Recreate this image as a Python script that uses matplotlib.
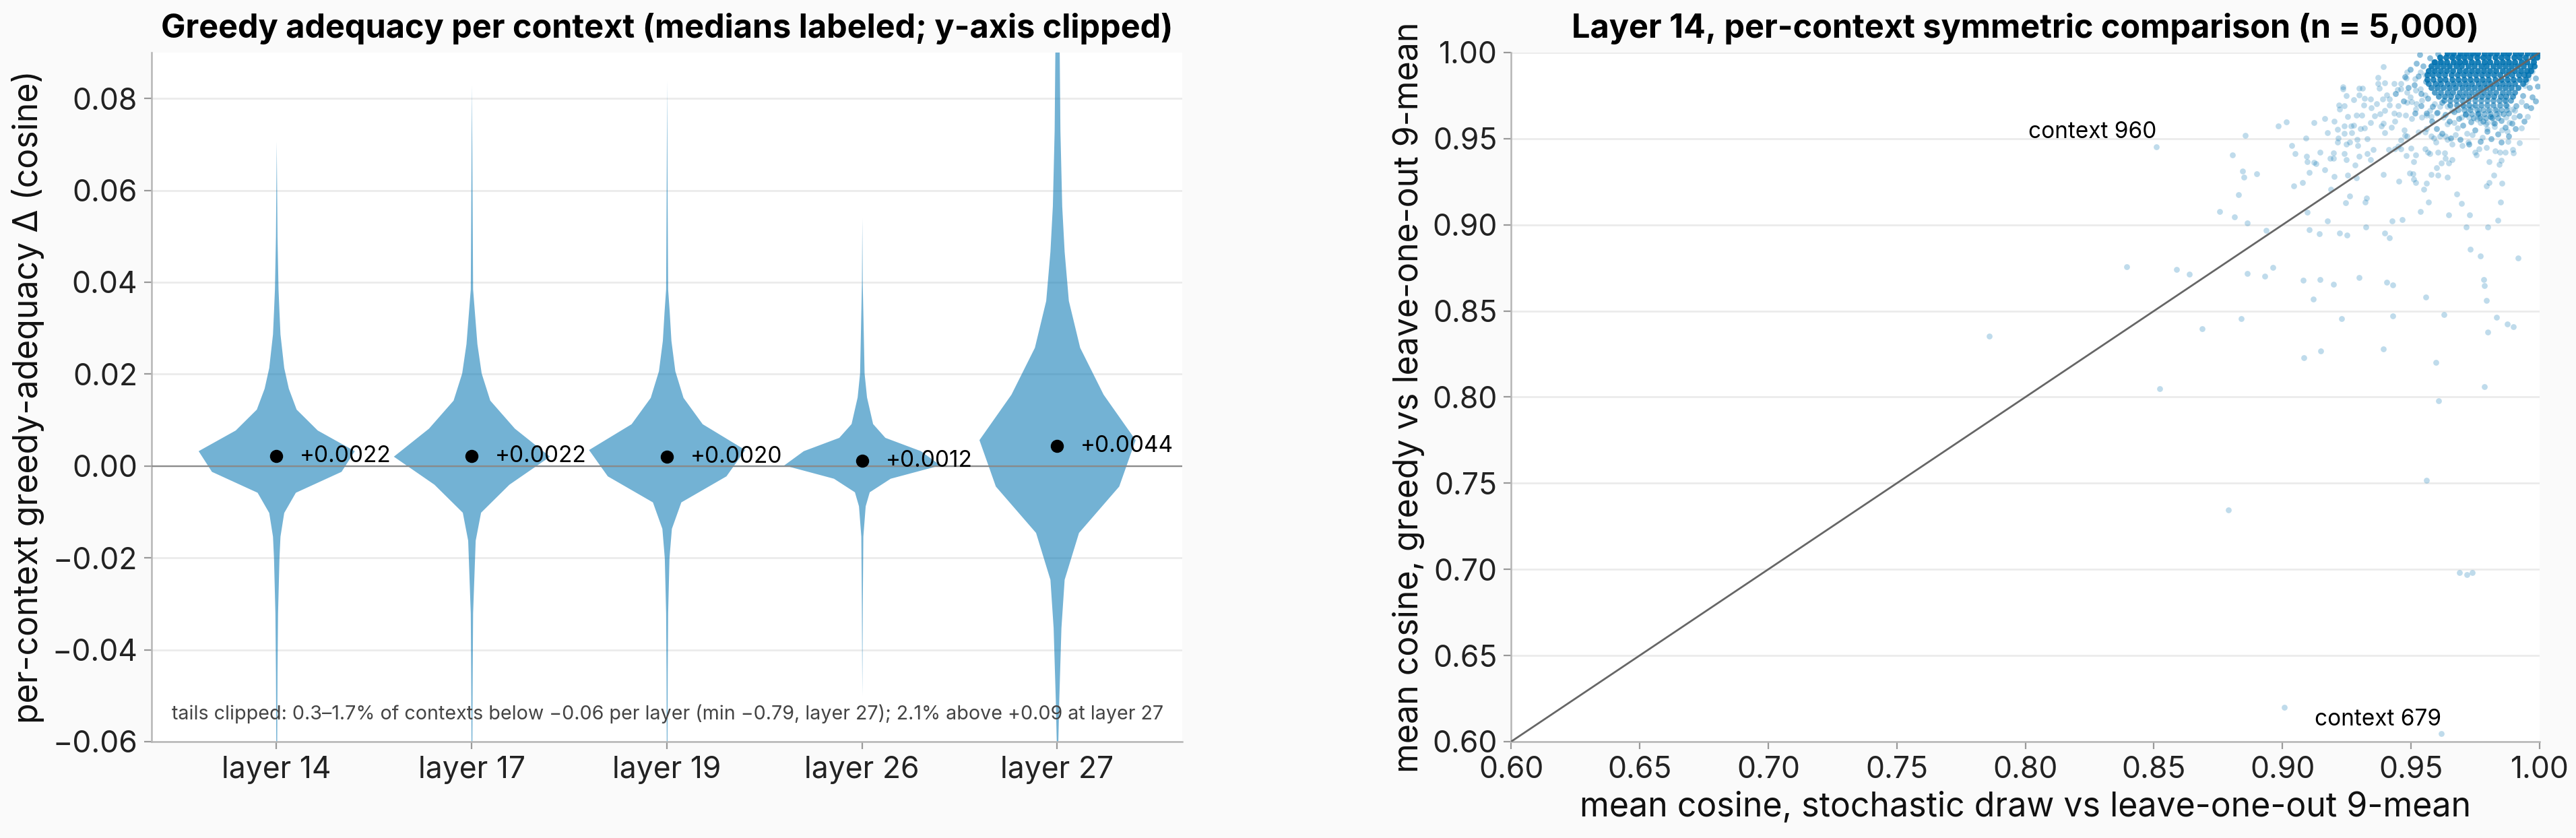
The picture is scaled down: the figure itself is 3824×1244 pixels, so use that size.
import numpy as np
import matplotlib
matplotlib.use("Agg")
import matplotlib.pyplot as plt
from matplotlib.ticker import FuncFormatter

plt.rcParams['font.family'] = ['Inter', 'DejaVu Sans']

BLUE = '#0173b2'
BG = '#fafafa'

# ---- left panel: per-layer violin profiles (y value, relative half-width) ----
layers = ['layer 14', 'layer 17', 'layer 19', 'layer 26', 'layer 27']
medians = [0.0022, 0.0022, 0.0020, 0.0012, 0.0044]

prof_y = [
    [0.0707, 0.050, 0.0385, 0.0336, 0.0287, 0.0214, 0.0169, 0.01235, 0.0078, 0.0033,
     -0.0012, -0.00575, -0.01015, -0.0153, -0.020, -0.032, -0.045, -0.060],
    [0.083, 0.060, 0.0385, 0.032, 0.0266, 0.0202, 0.0143, 0.0082, 0.0021, -0.0040,
     -0.0101, -0.0162, -0.032, -0.045, -0.060],
    [0.084, 0.060, 0.0385, 0.0336, 0.0273, 0.0207, 0.0149, 0.00917, 0.00355, -0.00218,
     -0.00785, -0.0136, -0.020, -0.032, -0.045, -0.060],
    [0.054, 0.040, 0.0202, 0.015, 0.0092, 0.0062, 0.0033, 0.0002, -0.0027, -0.00565,
     -0.0087, -0.0153, -0.030, -0.050],
    [0.095, 0.090, 0.073, 0.0566, 0.0467, 0.036, 0.0258, 0.0156, 0.0057, -0.0044,
     -0.0145, -0.0247, -0.0352, -0.051, -0.060],
]
prof_w = [
    [0.0, 0.01, 0.023, 0.035, 0.048, 0.096, 0.155, 0.255, 0.525, 1.0,
     0.83, 0.245, 0.096, 0.048, 0.035, 0.017, 0.01, 0.006],
    [0.0, 0.008, 0.015, 0.045, 0.07, 0.125, 0.235, 0.55, 1.0, 0.48,
     0.117, 0.048, 0.015, 0.01, 0.006],
    [0.0, 0.006, 0.013, 0.033, 0.055, 0.105, 0.21, 0.455, 1.0, 0.76,
     0.182, 0.061, 0.03, 0.013, 0.008, 0.005],
    [0.0, 0.005, 0.029, 0.06, 0.138, 0.295, 0.75, 1.0, 0.363, 0.095,
     0.043, 0.013, 0.006, 0.0],
    [0.025, 0.028, 0.037, 0.06, 0.091, 0.145, 0.29, 0.59, 1.0, 0.79,
     0.275, 0.091, 0.05, 0.022, 0.01],
]

footnote = ("tails clipped: 0.3\u20131.7% of contexts below \u22120.06 per layer "
            "(min \u22120.79, layer 27); 2.1% above +0.09 at layer 27")

# ---- right panel: layer 14 per-context means ----
sparse_x = [
    0.7859, 0.8510, 0.8394, 0.8587, 0.8638, 0.8522, 0.8687, 0.8838, 0.8790, 0.8854, 0.8804, 0.8844,
    0.8850, 0.8900, 0.8828, 0.8756, 0.8813, 0.8863, 0.8935, 0.8862, 0.8932, 0.8962, 0.8984, 0.9016,
    0.9120, 0.9199, 0.9082, 0.9148, 0.9230, 0.9392, 0.9428, 0.9429, 0.9557, 0.9628, 0.9597, 0.9606,
    0.9559, 0.9006, 0.9617, 0.9688, 0.9717, 0.9738, 0.9785, 0.9785, 0.9794, 0.9833, 0.9874, 0.9898,
    0.9799,
    0.9392, 0.9372, 0.9398, 0.9372, 0.9377, 0.9236, 0.9236, 0.9297, 0.9310, 0.9249, 0.9299, 0.9278,
    0.9219, 0.9239, 0.9223, 0.9319, 0.9341, 0.9315, 0.9345, 0.9365, 0.9389, 0.9406, 0.9415, 0.9434,
    0.9459, 0.9485, 0.9481, 0.9459, 0.9446, 0.9485, 0.9516, 0.9537, 0.9555, 0.9581, 0.9616, 0.9660,
    0.9677, 0.9688, 0.9715, 0.9743, 0.9651,
    0.9254, 0.9286, 0.9309, 0.9278, 0.9267, 0.9239, 0.9213, 0.9200, 0.9164, 0.9122, 0.9175, 0.9216,
    0.9239, 0.9268, 0.9302, 0.9319, 0.9341, 0.9330, 0.9289, 0.9260, 0.9249, 0.9214, 0.9293, 0.9090,
    0.9035, 0.9050, 0.9094, 0.9096, 0.9123, 0.9131, 0.9146, 0.9184, 0.9197, 0.9199, 0.9241, 0.9248,
    0.9297, 0.9330, 0.9342, 0.9352, 0.9282, 0.9165, 0.9103, 0.9044, 0.9077, 0.9202, 0.9254, 0.9287,
    0.9188, 0.9260, 0.9245, 0.9326, 0.9322, 0.9392, 0.9452, 0.9494, 0.9507, 0.9511, 0.9517, 0.9511,
    0.9481, 0.9517, 0.9459, 0.9437, 0.9413, 0.9500, 0.9549, 0.9560, 0.9578, 0.9603, 0.9598, 0.9618,
    0.9640, 0.9632, 0.9658, 0.9647, 0.9555, 0.9565, 0.9574, 0.9603, 0.9630, 0.9568, 0.9677, 0.9695,
    0.9645, 0.9728, 0.9714, 0.9797, 0.9837, 0.9849, 0.9792, 0.9804, 0.9821, 0.9852, 0.9843, 0.9850,
    0.9804, 0.9753, 0.9747, 0.9764, 0.9792, 0.9828, 0.9845, 0.9867, 0.9895, 0.9898, 0.9921, 0.9876,
    0.9777, 0.9928, 0.9952, 0.9874, 0.9853, 0.9825, 0.9795, 0.9738, 0.9716, 0.9721, 0.9699, 0.9658,
    0.9673, 0.9612, 0.9597, 0.9588, 0.9642, 0.9633, 0.9555, 0.9577, 0.9559, 0.9529, 0.9485, 0.9476,
    0.9461, 0.9450, 0.9472, 0.9424, 0.9437, 0.9398, 0.9391, 0.9385, 0.9380, 0.9433, 0.9453, 0.9478,
    0.9502, 0.9517, 0.9542, 0.9559, 0.9579, 0.9502, 0.9485, 0.9520, 0.9542, 0.9555, 0.9537, 0.9517,
    0.9498, 0.9450, 0.9415, 0.9398, 0.9358,
    0.9096, 0.9175, 0.9103, 0.9142, 0.9221, 0.9251, 0.9323, 0.9396, 0.9415, 0.9426, 0.9466, 0.9537,
    0.9729, 0.9769, 0.9915, 0.9079, 0.9145, 0.9299, 0.9405, 0.9782,
    0.9598, 0.9625, 0.9642, 0.9668, 0.9681, 0.9695, 0.9725, 0.9756, 0.9769, 0.9790, 0.9817, 0.9843,
    0.9869, 0.9882, 0.9900, 0.9904, 0.9930, 0.9943, 0.9956, 0.9970, 0.9948, 0.9895, 0.9874, 0.9860,
    0.9832, 0.9799, 0.9764, 0.9738, 0.9721, 0.9703, 0.9660, 0.9642, 0.9612, 0.9590, 0.9572,
]
sparse_y = [
    0.8353, 0.9454, 0.8758, 0.8740, 0.8714, 0.8050, 0.8397, 0.8454, 0.7343, 0.9520, 0.9404, 0.9311,
    0.9277, 0.9298, 0.9173, 0.9077, 0.9044, 0.9010, 0.8968, 0.8716, 0.8701, 0.8753, 0.9573, 0.9599,
    0.8569, 0.8654, 0.8228, 0.8267, 0.8454, 0.8278, 0.8649, 0.8472, 0.8579, 0.8478, 0.8200, 0.7977,
    0.7517, 0.6201, 0.6045, 0.6980, 0.6970, 0.6980, 0.8060, 0.8646, 0.8560, 0.8465, 0.8426, 0.8410,
    0.8379,
    0.9916, 0.9857, 0.9823, 0.9820, 0.9794, 0.9801, 0.9788, 0.9792, 0.9792, 0.9751, 0.9752, 0.9726,
    0.9696, 0.9692, 0.9670, 0.9735, 0.9729, 0.9696, 0.9679, 0.9703, 0.9732, 0.9755, 0.9729, 0.9820,
    0.9820, 0.9885, 0.9853, 0.9788, 0.9784, 0.9768, 0.9846, 0.9885, 0.9872, 0.9905, 0.9953, 0.9977,
    0.9944, 0.9977, 0.9951, 0.9983, 0.9925,
    0.9628, 0.9637, 0.9637, 0.9579, 0.9572, 0.9572, 0.9553, 0.9601, 0.9616, 0.9595, 0.9536, 0.9504,
    0.9529, 0.9536, 0.9559, 0.9562, 0.9592, 0.9501, 0.9497, 0.9481, 0.9470, 0.9478, 0.9459, 0.9503,
    0.9461, 0.9413, 0.9396, 0.9366, 0.9363, 0.9354, 0.9420, 0.9386, 0.9386, 0.9419, 0.9413, 0.9380,
    0.9396, 0.9413, 0.9379, 0.9438, 0.9348, 0.9320, 0.9305, 0.9225, 0.9246, 0.9279, 0.9289, 0.9272,
    0.9207, 0.9168, 0.9129, 0.9155, 0.9132, 0.9294, 0.9255, 0.9301, 0.9298, 0.9265, 0.9246, 0.9367,
    0.9403, 0.9405, 0.9442, 0.9442, 0.9437, 0.9445, 0.9207, 0.9242, 0.9294, 0.9289, 0.9333, 0.9357,
    0.9275, 0.9387, 0.9377, 0.9357, 0.9442, 0.9420, 0.9412, 0.9422, 0.9416, 0.9132, 0.9180, 0.9126,
    0.9057, 0.9057, 0.8989, 0.8989, 0.9027, 0.9132, 0.9226, 0.9246, 0.9289, 0.9242, 0.9350, 0.9374,
    0.9366, 0.9406, 0.9422, 0.9442, 0.9448, 0.9431, 0.9422, 0.9422, 0.9435, 0.9416, 0.9477, 0.9484,
    0.9507, 0.9562, 0.9628, 0.9543, 0.9549, 0.9570, 0.9557, 0.9523, 0.9529, 0.9478, 0.9461, 0.9468,
    0.9523, 0.9514, 0.9481, 0.9503, 0.9494, 0.9514, 0.9540, 0.9514, 0.9559, 0.9540, 0.9514, 0.9520,
    0.9491, 0.9455, 0.9550, 0.9566, 0.9600, 0.9536, 0.9588, 0.9572, 0.9644, 0.9650, 0.9640, 0.9637,
    0.9618, 0.9670, 0.9624, 0.9637, 0.9630, 0.9713, 0.9712, 0.9703, 0.9722, 0.9755, 0.9788, 0.9781,
    0.9742, 0.9692, 0.9696, 0.9664, 0.9634,
    0.9074, 0.9022, 0.8972, 0.8950, 0.8953, 0.8942, 0.8989, 0.8953, 0.8926, 0.9022, 0.9031, 0.9076,
    0.8859, 0.8819, 0.8809, 0.8678, 0.8682, 0.8694, 0.8668, 0.8681,
    0.9650, 0.9624, 0.9585, 0.9592, 0.9562, 0.9624, 0.9624, 0.9611, 0.9630, 0.9585, 0.9624, 0.9650,
    0.9624, 0.9592, 0.9624, 0.9664, 0.9716, 0.9807, 0.9853, 0.9892, 0.9833, 0.9670, 0.9689, 0.9722,
    0.9670, 0.9664, 0.9670, 0.9683, 0.9670, 0.9689, 0.9664, 0.9689, 0.9689, 0.9703, 0.9664,
]

# halo around the core, where contexts overlap about twice
mid_x = [
    0.9565, 0.9583, 0.9601, 0.9620, 0.9634, 0.9650, 0.9667, 0.9685, 0.9701, 0.9712, 0.9733, 0.9748,
    0.9761, 0.9779, 0.9795, 0.9808, 0.9823, 0.9838, 0.9851, 0.9866, 0.9880, 0.9893, 0.9909, 0.9922,
    0.9935, 0.9947, 0.9960, 0.9972, 0.9983, 0.9991,
    0.9512, 0.9528, 0.9540, 0.9546, 0.9558, 0.9572, 0.9589, 0.9521, 0.9498, 0.9533, 0.9605, 0.9475,
    0.9490,
    0.9620, 0.9655, 0.9690, 0.9725, 0.9770, 0.9810, 0.9850, 0.9880, 0.9905, 0.9940, 0.9965, 0.9985,
    0.9580, 0.9560, 0.9540, 0.9600, 0.9515, 0.9470, 0.9440,
]
mid_y = [
    0.9735, 0.9688, 0.9652, 0.9712, 0.9641, 0.9603, 0.9655, 0.9618, 0.9577, 0.9640, 0.9598, 0.9552,
    0.9650, 0.9602, 0.9541, 0.9630, 0.9590, 0.9528, 0.9607, 0.9565, 0.9648, 0.9588, 0.9693, 0.9632,
    0.9751, 0.9690, 0.9798, 0.9742, 0.9852, 0.9805,
    0.9812, 0.9865, 0.9760, 0.9921, 0.9830, 0.9968, 0.9945, 0.9938, 0.9902, 0.9990, 0.9992, 0.9861,
    0.9795,
    0.9530, 0.9505, 0.9495, 0.9470, 0.9485, 0.9500, 0.9478, 0.9515, 0.9560, 0.9600, 0.9680, 0.9720,
    0.9600, 0.9650, 0.9690, 0.9560, 0.9650, 0.9720, 0.9760,
]
mid_n = 2

# dense core near (1, 1): rows of overlapping contexts, each position holding several contexts
core_row_y = [0.9995, 0.9971, 0.9944, 0.9921, 0.9894, 0.9871, 0.9845, 0.9819, 0.9796,
              0.9770, 0.9744, 0.9721, 0.9695, 0.9669, 0.9646, 0.9620, 0.9594]
core_row_x = [
    [0.9642, 0.9665, 0.9691, 0.9713, 0.9738, 0.9760, 0.9786, 0.9809, 0.9833, 0.9858, 0.9880, 0.9905, 0.9927, 0.9952, 0.9975, 0.9996],
    [0.9612, 0.9635, 0.9660, 0.9683, 0.9707, 0.9731, 0.9756, 0.9779, 0.9802, 0.9827, 0.9850, 0.9874, 0.9899, 0.9921, 0.9946, 0.9970, 0.9990],
    [0.9590, 0.9616, 0.9639, 0.9664, 0.9688, 0.9710, 0.9735, 0.9759, 0.9784, 0.9807, 0.9831, 0.9856, 0.9879, 0.9903, 0.9928, 0.9951, 0.9976],
    [0.9577, 0.9601, 0.9626, 0.9650, 0.9675, 0.9697, 0.9722, 0.9746, 0.9771, 0.9794, 0.9819, 0.9842, 0.9866, 0.9891, 0.9914, 0.9938, 0.9962, 0.9978],
    [0.9567, 0.9590, 0.9615, 0.9639, 0.9662, 0.9687, 0.9711, 0.9735, 0.9758, 0.9783, 0.9806, 0.9830, 0.9855, 0.9878, 0.9902, 0.9926, 0.9950, 0.9966],
    [0.9561, 0.9584, 0.9607, 0.9631, 0.9656, 0.9679, 0.9703, 0.9727, 0.9750, 0.9775, 0.9798, 0.9822, 0.9846, 0.9871, 0.9893, 0.9918, 0.9940, 0.9955],
    [0.9562, 0.9586, 0.9611, 0.9634, 0.9659, 0.9682, 0.9706, 0.9731, 0.9754, 0.9778, 0.9802, 0.9827, 0.9850, 0.9874, 0.9898, 0.9921, 0.9944],
    [0.9568, 0.9593, 0.9616, 0.9640, 0.9664, 0.9689, 0.9712, 0.9736, 0.9761, 0.9784, 0.9808, 0.9833, 0.9856, 0.9880, 0.9904, 0.9933],
    [0.9578, 0.9601, 0.9626, 0.9649, 0.9673, 0.9698, 0.9721, 0.9745, 0.9770, 0.9793, 0.9817, 0.9842, 0.9865, 0.9889, 0.9915],
    [0.9591, 0.9616, 0.9640, 0.9662, 0.9687, 0.9711, 0.9735, 0.9758, 0.9783, 0.9806, 0.9830, 0.9855, 0.9878, 0.9903],
    [0.9607, 0.9630, 0.9654, 0.9679, 0.9702, 0.9726, 0.9751, 0.9774, 0.9798, 0.9822, 0.9847, 0.9870, 0.9894],
    [0.9628, 0.9651, 0.9676, 0.9699, 0.9723, 0.9747, 0.9771, 0.9795, 0.9819, 0.9843, 0.9866, 0.9888],
    [0.9652, 0.9677, 0.9700, 0.9724, 0.9748, 0.9772, 0.9796, 0.9820, 0.9844, 0.9868],
    [0.9683, 0.9707, 0.9731, 0.9755, 0.9779, 0.9803, 0.9827, 0.9851, 0.9872],
    [0.9712, 0.9736, 0.9760, 0.9784, 0.9808, 0.9832, 0.9858],
    [0.9742, 0.9766, 0.9790, 0.9814, 0.9838],
    [0.9770, 0.9795, 0.9820],
]
core_row_n = [8, 8, 8, 7, 7, 6, 6, 5, 5, 4, 4, 3, 3, 2, 2, 2, 1]

labelled = {'context 960': (0.8510, 0.9454), 'context 679': (0.9617, 0.6045)}


def style_axes(ax):
    ax.set_facecolor('white')
    for s in ['top', 'right']:
        ax.spines[s].set_visible(False)
    for s in ['left', 'bottom']:
        ax.spines[s].set_color('#b5b5b5')
        ax.spines[s].set_linewidth(0.9)
    ax.tick_params(colors='#999999', labelcolor='#222222', labelsize=16, length=4, width=0.8)
    ax.grid(axis='y', color='#ebebeb', lw=1.0)
    ax.set_axisbelow(True)


fmt = FuncFormatter(lambda v, p: f"{v:.2f}".replace('-', '\u2212'))

fig = plt.figure(figsize=(19.12, 6.22), dpi=200, facecolor=BG)
ax1 = fig.add_axes([0.0588, 0.115, 0.4001, 0.8223])
ax2 = fig.add_axes([0.5866, 0.115, 0.3993, 0.8223])

# left: violins
style_axes(ax1)
for i, (ys, ws) in enumerate(zip(prof_y, prof_w)):
    ys = np.array(ys)
    hw = np.array(ws) * 0.4
    ax1.fill_betweenx(ys, i - hw, i + hw, color=BLUE, alpha=0.55, lw=0, zorder=2)
ax1.axhline(0, color='#8a8a8a', lw=0.8, zorder=3)
pos = np.arange(len(layers))
ax1.plot(pos, medians, 'o', color='black', ms=6, zorder=4)
for i, m in enumerate(medians):
    ax1.text(i + 0.12, m, f"+{m:.4f}", fontsize=12, va='center', ha='left', zorder=5)
ax1.set_xlim(-0.64, 4.64)
ax1.set_ylim(-0.06, 0.09)
ax1.set_xticks(pos)
ax1.set_xticklabels(layers)
ax1.set_yticks(np.arange(-0.06, 0.081, 0.02))
ax1.yaxis.set_major_formatter(fmt)
ax1.set_ylabel('per-context greedy-adequacy \u0394 (cosine)', fontsize=18, color='#111111')
ax1.set_title('Greedy adequacy per context (medians labeled; y-axis clipped)',
              fontsize=17.5, fontweight='bold', pad=8)
ax1.text(0.02, 0.04, footnote, transform=ax1.transAxes, fontsize=10.3, color='#444444',
         va='center', ha='left')

# right: scatter
style_axes(ax2)
cx = np.concatenate([np.repeat(r, n) for r, n in zip(core_row_x, core_row_n)])
cy = np.concatenate([np.full(len(r) * n, y) for r, y, n in zip(core_row_x, core_row_y, core_row_n)])
mx = np.repeat(mid_x, mid_n)
my = np.repeat(mid_y, mid_n)
ax2.scatter(sparse_x, sparse_y, s=10, color=BLUE, alpha=0.25, lw=0, zorder=2)
ax2.scatter(mx, my, s=10, color=BLUE, alpha=0.25, lw=0, zorder=2)
ax2.scatter(cx, cy, s=10, color=BLUE, alpha=0.25, lw=0, zorder=2)
ax2.axline((0.6, 0.6), slope=1, color='#666666', lw=1.0, zorder=3)
for name, (px, py) in labelled.items():
    ax2.annotate(name, (px, py), xytext=(0, 2), textcoords='offset points',
                 ha='right', va='bottom', fontsize=12)
ax2.set_xlim(0.6, 1.0)
ax2.set_ylim(0.6, 1.0)
ax2.set_xticks(np.arange(0.6, 1.001, 0.05))
ax2.set_yticks(np.arange(0.6, 1.001, 0.05))
ax2.xaxis.set_major_formatter(fmt)
ax2.yaxis.set_major_formatter(fmt)
ax2.set_xlabel('mean cosine, stochastic draw vs leave-one-out 9-mean', fontsize=18, color='#111111')
ax2.set_ylabel('mean cosine, greedy vs leave-one-out 9-mean', fontsize=18, color='#111111')
ax2.set_title('Layer 14, per-context symmetric comparison (n = 5,000)',
              fontsize=17.5, fontweight='bold', pad=8)

fig.savefig('out.png', dpi=200, facecolor=BG)
